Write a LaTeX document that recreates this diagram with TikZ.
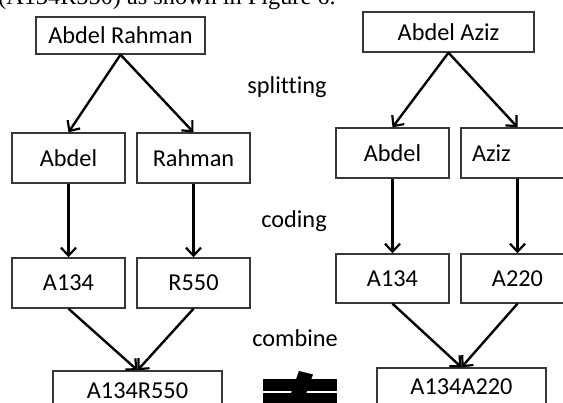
\documentclass[tikz,border=0pt]{standalone}
\usepackage{fontspec}
\setmainfont[Ligatures={NoCommon}]{Carlito}
\newfontfamily\capfont{Liberation Serif}
\usetikzlibrary{arrows.meta}
\tikzset{
  box/.style={draw=black!78, line width=1.4pt, rectangle, inner sep=0pt,
    font=\fontsize{24.3}{29}\selectfont},
  lbl/.style={inner sep=0pt, font=\fontsize{24.3}{29}\selectfont, anchor=base},
  arr/.style={line width=2.4pt, -{Straight Barb[length=8pt,width=15pt,line width=2.2pt]}}
}
\begin{document}
\begin{tikzpicture}[x=1pt,y=-1pt]
\useasboundingbox (0,0) rectangle (563,403);
\clip (0,0) rectangle (563,403);
\fill[white] (0,0) rectangle (563,403);
% cropped caption line at top
\node[inner sep=0pt, anchor=base west, font=\capfont\fontsize{24.3}{29}\selectfont] (cap) at (-2,5) {(A134R550) as shown in Figure 6.};
% left tree
\node[box, minimum width=169pt, minimum height=37pt] (ar) at (120.5,35.5) {Abdel Rahman};
\node[box, minimum width=113pt, minimum height=50pt] (al) at (68.5,158) {Abdel};
\node[box, minimum width=113pt, minimum height=50pt] (rl) at (193.5,158) {Rahman};
\node[box, minimum width=113pt, minimum height=50pt] (a1l) at (68.5,283) {A134};
\node[box, minimum width=113pt, minimum height=50pt] (r5) at (193.5,283) {R550};
\node[box, minimum width=169pt, minimum height=40pt] (arc) at (137.5,391) {A134R550};
% right tree
\node[box, minimum width=171pt, minimum height=40pt] (aa) at (448.5,32) {Abdel Aziz};
\node[box, minimum width=113pt, minimum height=50pt] (ar2) at (392.5,153) {Abdel};
\node[box, minimum width=113pt, minimum height=50pt, text width=91pt, align=left] (az) at (517.5,153) {Aziz};
\node[box, minimum width=113pt, minimum height=49pt] (a1r) at (392.5,278.5) {A134};
\node[box, minimum width=113pt, minimum height=49pt] (a2) at (517.5,278.5) {A220};
\node[box, minimum width=169pt, minimum height=38pt] (aac) at (461.5,387) {A134A220};
% labels
\node[lbl] (split) at (287,94) {splitting};
\node[lbl] (cod) at (294,228) {coding};
\node[lbl] (comb) at (295,347) {combine};
% arrows left
\draw[arr] (ar.south) -- (al.north);
\draw[arr] (ar.south) -- (rl.north);
\draw[arr] (al.south) -- (a1l.north);
\draw[arr] (rl.south) -- (r5.north);
\draw[arr] (a1l.south) -- (arc.north);
\draw[arr] (r5.south) -- (arc.north);
% arrows right
\draw[arr] (aa.south) -- (ar2.north);
\draw[arr] (aa.south) -- (az.north);
\draw[arr] (ar2.south) -- (a1r.north);
\draw[arr] (az.south) -- (a2.north);
\draw[arr] (a1r.south) -- (aac.north);
\draw[arr] (a2.south) -- (aac.north);
% not-equal sign
\fill[black] (263,379) rectangle (337,391);
\fill[black] (263,393) rectangle (337,406);
\fill[black] (299,371) -- (313,374.5) -- (299.5,412) -- (285.5,408.6) -- cycle;
\end{tikzpicture}
\end{document}
